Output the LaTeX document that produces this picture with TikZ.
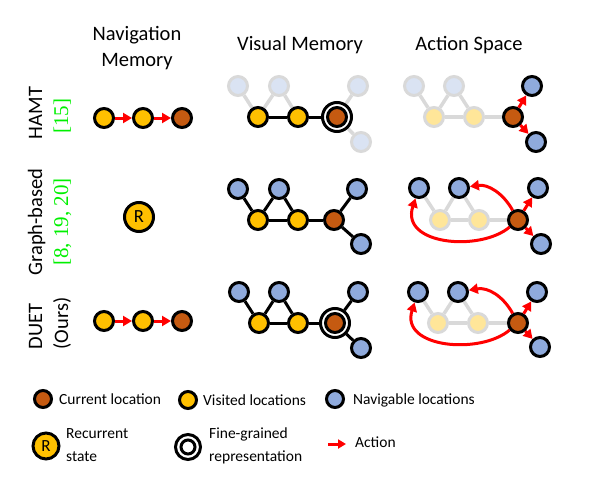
\documentclass[tikz,border=0pt]{standalone}
\usepackage{fontspec}
\setmainfont{Carlito}
\newfontfamily\citefont{Liberation Serif}
\usetikzlibrary{arrows.meta,backgrounds,calc}
\definecolor{curC}{HTML}{C55A11}
\definecolor{visC}{HTML}{FFC000}
\definecolor{navC}{HTML}{8FAADC}
\definecolor{fnavC}{HTML}{DAE3F3}
\definecolor{fvisC}{HTML}{FFE699}
\definecolor{fadeE}{HTML}{D9D9D9}
\definecolor{citeG}{HTML}{00F000}
\begin{document}
\begin{tikzpicture}[x=1pt,y=-1pt,
 nd/.style={circle,minimum size=19pt,inner sep=0pt,line width=3pt,draw=black},
 cur/.style={nd,fill=curC},
 vis/.style={nd,fill=visC},
 nav/.style={nd,fill=navC},
 fnav/.style={nd,draw=fadeE,fill=fnavC},
 fvis/.style={nd,draw=fadeE,fill=fvisC},
 ringnd/.style={circle,minimum size=29pt,inner sep=0pt,line width=3pt,draw=black,fill=white},
 edge/.style={line width=3pt,draw=black},
 fedge/.style={line width=3.5pt,draw=fadeE},
 act/.style={line width=3pt,draw=red,-{Triangle[length=9pt,width=10pt]}},
 head/.style={font=\fontsize{20.5}{26}\selectfont,inner sep=0pt,anchor=base,align=center},
 lab/.style={font=\fontsize{20.5}{26}\selectfont,rotate=90,anchor=base,inner sep=0pt},
 cite/.style={font=\fontsize{21}{26}\citefont,text=citeG,rotate=90,anchor=base,inner sep=0pt},
 leg/.style={font=\fontsize{15.5}{23}\selectfont,inner sep=0pt,anchor=base west,align=left},
]
\useasboundingbox (0,0) rectangle (600,482);

% ---------- headers ----------
\node[head] (hnav) at (137,66.7) {Navigation\\Memory};
\node[head] (hvis) at (300,50) {Visual Memory};
\node[head] (hact) at (469,50) {Action Space};

% ---------- row labels ----------
\node[lab] (lh) at (42,113) {HAMT};
\node[cite] (ch) at (68,116) {[15]};
\node[lab] (lg) at (42,222) {Graph-based};
\node[cite] (cg) at (68,222) {[8, 19, 20]};
\node[lab] (ld) at (42,326.5) {DUET};
\node[lab] (lo) at (68,323.5) {(Ours)};

% ---------- navigation memory ----------
\node[vis] (n1a) at (104,118) {};
\node[vis] (n1b) at (143,118) {};
\node[cur] (n1c) at (182,118) {};
\draw[act] (n1a) -- (n1b);
\draw[act] (n1b) -- (n1c);

\node[vis,minimum size=29pt,font=\fontsize{18.5}{20}\selectfont] (rst) at (139,217) {R};

\node[vis] (n3a) at (104,321) {};
\node[vis] (n3b) at (143,321) {};
\node[cur] (n3c) at (182,321) {};
\draw[act] (n3a) -- (n3b);
\draw[act] (n3b) -- (n3c);

% ---------- visual memory: HAMT ----------
\node[fnav] (vh-b1) at (238,86) {};
\node[fnav] (vh-b2) at (279,86) {};
\node[vis] (vh-y1) at (258,117) {};
\node[vis] (vh-y2) at (298,117) {};
\node[ringnd] (vh-r) at (337,117) {};
\node[cur] (vh-c) at (337,117) {};
\node[fnav] (vh-b3) at (358,86) {};
\node[fnav] (vh-b4) at (361,142) {};
\begin{scope}[on background layer]
\draw[fedge] (vh-b1) -- (vh-y1);
\draw[fedge] (vh-b2) -- (vh-y1);
\draw[fedge] (vh-b2) -- (vh-y2);
\draw[edge] (vh-y1) -- (vh-y2);
\draw[edge] (vh-y2) -- (vh-c);
\draw[fedge] (vh-c) -- (vh-b3);
\draw[fedge] (vh-c) -- (vh-b4);
\end{scope}

% ---------- visual memory: graph-based ----------
\node[nav] (vg-b1) at (238,189) {};
\node[nav] (vg-b2) at (279,189) {};
\node[vis] (vg-y1) at (258,220) {};
\node[vis] (vg-y2) at (298,220) {};
\node[cur] (vg-c) at (334,220) {};
\node[nav] (vg-b3) at (357,189) {};
\node[nav] (vg-b4) at (361,244) {};
\begin{scope}[on background layer]
\draw[edge] (vg-b1) -- (vg-y1);
\draw[edge] (vg-b2) -- (vg-y1);
\draw[edge] (vg-b2) -- (vg-y2);
\draw[edge] (vg-y1) -- (vg-y2);
\draw[edge] (vg-y2) -- (vg-c);
\draw[edge] (vg-c) -- (vg-b3);
\draw[edge] (vg-c) -- (vg-b4);
\end{scope}

% ---------- visual memory: DUET ----------
\node[nav] (vd-b1) at (239,292) {};
\node[nav] (vd-b2) at (279,292) {};
\node[vis] (vd-y1) at (259,323) {};
\node[vis] (vd-y2) at (298,323) {};
\node[ringnd] (vd-r) at (335,323) {};
\node[cur] (vd-c) at (335,323) {};
\node[nav] (vd-b3) at (358,292) {};
\node[nav] (vd-b4) at (361,348) {};
\begin{scope}[on background layer]
\draw[edge] (vd-b1) -- (vd-y1);
\draw[edge] (vd-b2) -- (vd-y1);
\draw[edge] (vd-b2) -- (vd-y2);
\draw[edge] (vd-y1) -- (vd-y2);
\draw[edge] (vd-y2) -- (vd-r);
\draw[edge] (vd-r) -- (vd-b3);
\draw[edge] (vd-r) -- (vd-b4);
\end{scope}

% ---------- action space: HAMT ----------
\node[fnav] (ah-b1) at (414,86) {};
\node[fnav] (ah-b2) at (454,86) {};
\node[fvis] (ah-y1) at (434,117) {};
\node[fvis] (ah-y2) at (474,117) {};
\node[cur] (ah-c) at (513,117) {};
\node[nav] (ah-b3) at (532,86) {};
\node[nav] (ah-b4) at (536,142) {};
\begin{scope}[on background layer]
\draw[fedge] (ah-b1) -- (ah-y1);
\draw[fedge] (ah-b2) -- (ah-y1);
\draw[fedge] (ah-b2) -- (ah-y2);
\draw[fedge] (ah-y1) -- (ah-y2);
\draw[fedge] (ah-y2) -- (ah-c);
\end{scope}
\draw[act] (ah-c) -- (ah-b3);
\draw[act] (ah-c) -- (ah-b4);

% ---------- action space: graph-based ----------
\node[nav] (ag-b1) at (419,188) {};
\node[nav] (ag-b2) at (459,188) {};
\node[fvis] (ag-y1) at (440,220) {};
\node[fvis] (ag-y2) at (479,220) {};
\node[cur] (ag-c) at (518,220) {};
\node[nav] (ag-b3) at (538,188) {};
\node[nav] (ag-b4) at (541,244) {};
\begin{scope}[on background layer]
\draw[fedge] (ag-b1) -- (ag-y1);
\draw[fedge] (ag-b2) -- (ag-y1);
\draw[fedge] (ag-b2) -- (ag-y2);
\draw[fedge] (ag-y1) -- (ag-y2);
\draw[fedge] (ag-y2) -- (ag-c);
\end{scope}
\draw[act] (ag-c) -- (ag-b3);
\draw[act] (ag-c) -- (ag-b4);
\draw[act] (ag-c) .. controls ($(ag-c)+(-15,-27)$) and ($(ag-c)+(-30,-36)$) .. (ag-b2);
\draw[act] (ag-c) .. controls ($(ag-c)+(-38,32)$) and ($(ag-c)+(-118,25)$) .. (ag-b1);

% ---------- action space: DUET ----------
\node[nav] (ad-b1) at (418,292) {};
\node[nav] (ad-b2) at (458,292) {};
\node[fvis] (ad-y1) at (438,323) {};
\node[fvis] (ad-y2) at (478,323) {};
\node[cur] (ad-c) at (518,323) {};
\node[nav] (ad-b3) at (537,292) {};
\node[nav] (ad-b4) at (540,347) {};
\begin{scope}[on background layer]
\draw[fedge] (ad-b1) -- (ad-y1);
\draw[fedge] (ad-b2) -- (ad-y1);
\draw[fedge] (ad-b2) -- (ad-y2);
\draw[fedge] (ad-y1) -- (ad-y2);
\draw[fedge] (ad-y2) -- (ad-c);
\end{scope}
\draw[act] (ad-c) -- (ad-b3);
\draw[act] (ad-c) -- (ad-b4);
\draw[act] (ad-c) .. controls ($(ad-c)+(-15,-27)$) and ($(ad-c)+(-30,-36)$) .. (ad-b2);
\draw[act] (ad-c) .. controls ($(ad-c)+(-38,32)$) and ($(ad-c)+(-118,25)$) .. (ad-b1);

% ---------- legend ----------
\node[cur,minimum size=17pt] (kc) at (43,399) {};
\node[leg] (kct) at (59,404.3) {Current location};
\node[vis,minimum size=17pt] (kv) at (188,400) {};
\node[leg] (kvt) at (203,405.5) {Visited locations};
\node[nav,minimum size=17pt] (kn) at (335,399) {};
\node[leg] (knt) at (353,404.3) {Navigable locations};
\node[vis,minimum size=26pt,font=\fontsize{17}{20}\selectfont] (kr) at (46,446) {R};
\node[leg] (krt) at (66,461) {Recurrent\\state};
\node[ringnd,minimum size=25pt] (kf) at (188,447) {};
\node[circle,draw=black,fill=white,line width=3pt,minimum size=14pt,inner sep=0pt] (kfi) at (188,447) {};
\node[leg] (kft) at (209,461.7) {Fine-grained\\representation};
\coordinate (ka1) at (328,444);
\coordinate (ka2) at (346,444);
\draw[line width=3pt,draw=red,-{Triangle[length=8pt,width=9pt]}] (ka1) -- (ka2);
\node[leg] (kat) at (355,447.7) {Action};
\end{tikzpicture}
\end{document}
